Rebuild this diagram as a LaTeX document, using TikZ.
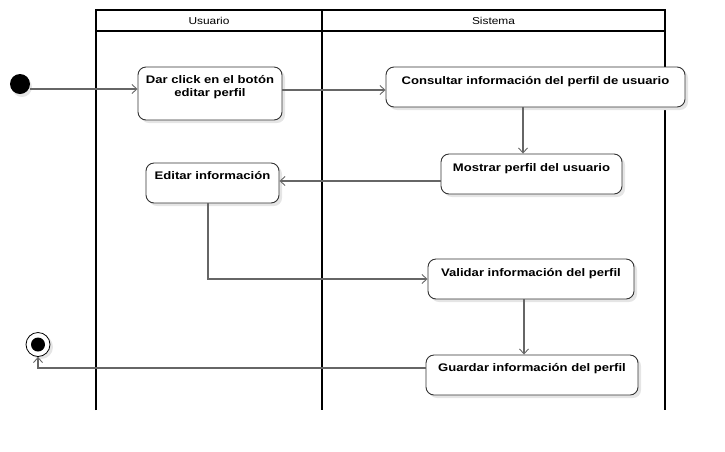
\documentclass[tikz,border=0pt]{standalone}
\usepackage{fontspec}
\setmainfont{Liberation Sans}[FakeStretch=1.19]
\usetikzlibrary{arrows.meta}
\definecolor{edgec}{HTML}{666666}
\definecolor{boxc}{HTML}{333333}
\begin{document}
\begin{tikzpicture}[x=1pt,y=-1pt,
  act/.style={draw=boxc, line width=0.9pt, rounded corners=8pt, fill=white, inner sep=0pt},
  shade/.style={fill=black!10, rounded corners=8pt, draw=none},
  lbl/.style={font=\fontsize{11}{13.5}\selectfont\bfseries, inner sep=0pt, anchor=base, align=center},
  hdr/.style={font=\fontsize{10}{12}\selectfont, inner sep=0pt},
  lane/.style={line width=1.6pt, black},
  flow/.style={draw=edgec, line width=1.1pt, -{Straight Barb[length=5pt,width=9pt,line width=0.9pt]}}]
\useasboundingbox (0,0) rectangle (725,451);
% swimlanes
\draw[lane] (96,410) -- (96,10) -- (665,10) -- (665,410);
\draw[lane] (96,31) -- (665,31);
\draw[lane] (322,10) -- (322,410);
\node[hdr] (hu) at (209,21) {Usuario};
\node[hdr] (hs) at (493.5,21) {Sistema};
% shadows
\fill[shade] (141,70) rectangle (285,123);
\fill[shade] (389,70) rectangle (688,110);
\fill[shade] (444,157) rectangle (625,197);
\fill[shade] (149,166) rectangle (282,206);
\fill[shade] (431,262) rectangle (637,302);
\fill[shade] (429,358) rectangle (641,398);
\fill[black!10] (22,87) circle (10);
\fill[black!10] (41,347) circle (12);
% activities
\node[act, minimum width=144pt, minimum height=53pt] (b1) at (210,93.5) {};
\node[act, minimum width=299pt, minimum height=40pt] (b2) at (535.5,87) {};
\node[act, minimum width=181pt, minimum height=40pt] (b3) at (531.5,174) {};
\node[act, minimum width=133pt, minimum height=40pt] (b4) at (212.5,183) {};
\node[act, minimum width=206pt, minimum height=40pt] (b5) at (531,279) {};
\node[act, minimum width=212pt, minimum height=40pt] (b6) at (532,375) {};
\node[lbl] (t1) at ([yshift=-30pt]b1.north) {Dar click en el botón\\editar perfil};
\node[lbl] (t2) at ([yshift=-18pt]b2.north) {Consultar información del perfil de usuario};
\node[lbl] (t3) at ([yshift=-18pt]b3.north) {Mostrar perfil del usuario};
\node[lbl] (t4) at ([yshift=-17pt]b4.north) {Editar información};
\node[lbl] (t5) at ([yshift=-18pt]b5.north) {Validar información del perfil};
\node[lbl] (t6) at ([yshift=-17pt]b6.north) {Guardar información del perfil};
% start / end
\node[circle, fill=black, minimum size=20pt, inner sep=0pt] (start) at (20,84) {};
\node[circle, draw=black, line width=0.8pt, fill=white, minimum size=24pt, inner sep=0pt] (end) at (38,344.5) {};
\node[circle, fill=black, minimum size=14pt, inner sep=0pt] (endc) at (end.center) {};
% flows
\draw[flow] ([yshift=-5pt]start.east) -- ([yshift=4.5pt]b1.west);
\draw[flow] ([yshift=3.5pt]b1.east) -- ([yshift=-3pt]b2.west);
\draw[flow] ([xshift=-12.5pt]b2.south) -- ([xshift=-8.5pt]b3.north);
\draw[flow] ([yshift=-7pt]b3.west) -- ([yshift=2pt]b4.east);
\draw[flow] ([xshift=-4.5pt]b4.south) |- (b5.west);
\draw[flow] ([xshift=-7pt]b5.south) -- ([xshift=-8pt]b6.north);
\draw[flow] ([yshift=7pt]b6.west) -| (end.south);
\end{tikzpicture}
\end{document}
